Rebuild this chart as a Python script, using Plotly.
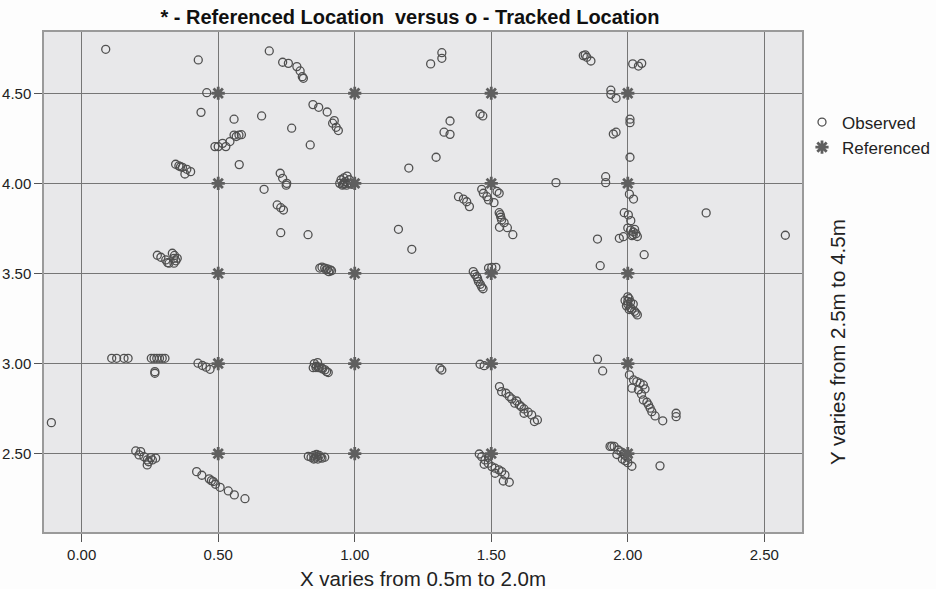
import plotly.graph_objects as go

# Observed (tracked) locations
obs_x = [
    0.088, 0.427, 0.458, 0.437, 0.558, 0.488, 0.500, 0.516, 0.528, 0.543, 0.558, 0.566, 0.576, 0.585, 0.577,
    0.344, 0.356, 0.369, 0.385, 0.399, 0.378, 0.362,
    0.277, 0.290, 0.308, 0.315, 0.332, 0.338, 0.350, 0.338, 0.320, 0.340, 0.345,
    0.687, 0.736, 0.757, 0.788, 0.800, 0.808, 0.812, 0.847, 0.868, 0.899, 0.925, 0.919, 0.932, 0.940,
    0.659, 0.769, 0.837, 0.727, 0.736, 0.751, 0.749, 0.668, 0.716, 0.729, 0.739, 0.729, 0.829,
    0.945, 0.950, 0.955, 0.960, 0.962, 0.965, 0.970, 0.972, 0.975, 0.980, 0.958, 0.985, 0.990,
    1.198, 1.160, 1.209,
    0.872, 0.880, 0.890, 0.895, 0.900, 0.905, 0.910, 0.915,
    1.319, 1.319, 1.278, 1.837, 1.850, 1.865, 1.844,
    1.938, 1.938, 1.957,
    1.459, 1.469, 1.349, 1.327, 1.349, 1.298,
    1.947, 1.957, 2.018, 2.039, 2.051, 2.008, 2.008, 2.008,
    1.737, 1.919, 1.919,
    1.380, 1.398, 1.410, 1.420,
    1.465, 1.471, 1.484, 1.490, 1.510, 1.529, 1.521,
    1.529, 1.535, 1.538, 1.547, 1.530, 1.559, 1.579, 1.533,
    2.006, 2.021, 1.987, 2.002, 2.011,
    2.000, 2.010, 2.020, 2.030, 2.015, 2.035, 2.025, 2.020,
    1.969, 1.984, 1.889, 2.060, 1.899, 2.287, 2.577,
    1.502, 1.517, 1.490,
    1.434, 1.447, 1.453, 1.440, 1.460, 1.465, 1.470, 1.450,
    -0.111, 0.110, 0.128, 0.155, 0.170,
    0.255, 0.265, 0.275, 0.285, 0.295, 0.305, 0.268, 0.268,
    0.426, 0.442, 0.456, 0.470,
    0.198, 0.216, 0.210, 0.228, 0.240, 0.253, 0.271, 0.240, 0.259, 0.245,
    0.421, 0.440, 0.467, 0.482, 0.490, 0.507, 0.537, 0.559, 0.598, 0.475,
    0.848, 0.852, 0.864, 0.867, 0.870, 0.858, 0.879, 0.882, 0.891, 0.897, 0.903, 0.860,
    0.830, 0.840, 0.850, 0.855, 0.860, 0.865, 0.870, 0.875, 0.880, 0.890, 0.860, 0.850,
    1.312, 1.319, 1.459, 1.474, 1.889, 1.908,
    1.530, 1.538, 1.554, 1.566, 1.575, 1.586, 1.593, 1.603, 1.610, 1.620, 1.620, 1.635, 1.648, 1.658, 1.669,
    1.456, 1.465, 1.477, 1.474, 1.489, 1.490, 1.502, 1.514, 1.514, 1.538, 1.550, 1.544, 1.566, 1.528,
    2.000, 2.005, 1.990, 2.010, 2.000, 1.995, 2.020, 2.010, 2.015, 2.025, 2.030, 2.035, 2.005, 2.000,
    2.006, 2.021, 2.033, 2.045, 2.057, 2.015, 2.039, 2.063, 2.050, 2.057, 2.070, 2.076, 2.082, 2.088,
    2.100, 2.128, 2.177, 2.177,
    1.935, 1.950, 1.965, 1.975, 1.985, 1.990, 2.000, 1.980, 1.990, 2.000, 2.015, 1.941, 1.960,
    2.118,
]
obs_y = [
    4.744, 4.685, 4.503, 4.394, 4.356, 4.204, 4.204, 4.222, 4.204, 4.232, 4.268, 4.260, 4.268, 4.270, 4.104,
    4.106, 4.097, 4.089, 4.078, 4.065, 4.052, 4.092,
    3.601, 3.590, 3.575, 3.560, 3.612, 3.584, 3.584, 3.557, 3.557, 3.600, 3.570,
    4.735, 4.672, 4.666, 4.648, 4.624, 4.592, 4.583, 4.437, 4.422, 4.396, 4.348, 4.334, 4.311, 4.293,
    4.374, 4.306, 4.213, 4.056, 4.028, 4.000, 3.990, 3.967, 3.880, 3.865, 3.852, 3.726, 3.715,
    4.000, 4.020, 3.990, 4.030, 4.000, 4.010, 3.990, 4.040, 4.000, 4.020, 3.995, 4.000, 3.995,
    4.085, 3.745, 3.634,
    3.530, 3.535, 3.530, 3.520, 3.525, 3.510, 3.520, 3.515,
    4.725, 4.694, 4.663, 4.709, 4.700, 4.679, 4.713,
    4.517, 4.494, 4.472,
    4.385, 4.374, 4.346, 4.284, 4.272, 4.145,
    4.274, 4.284, 4.663, 4.651, 4.666, 4.356, 4.337, 4.145,
    4.004, 4.037, 4.004,
    3.926, 3.913, 3.898, 3.871,
    3.967, 3.945, 3.926, 3.908, 3.893, 3.945, 3.955,
    3.837, 3.812, 3.797, 3.782, 3.756, 3.754, 3.715, 3.826,
    3.940, 3.913, 3.837, 3.825, 3.793,
    3.752, 3.740, 3.730, 3.720, 3.710, 3.705, 3.745, 3.715,
    3.695, 3.704, 3.691, 3.604, 3.543, 3.836, 3.712,
    3.534, 3.534, 3.530,
    3.510, 3.482, 3.455, 3.495, 3.440, 3.425, 3.415, 3.470,
    2.672, 3.029, 3.029, 3.029, 3.029,
    3.029, 3.029, 3.029, 3.029, 3.029, 3.029, 2.946, 2.955,
    3.002, 2.989, 2.980, 2.968,
    2.515, 2.511, 2.493, 2.483, 2.465, 2.478, 2.475, 2.437, 2.465, 2.455,
    2.400, 2.380, 2.360, 2.345, 2.330, 2.313, 2.293, 2.271, 2.250, 2.350,
    2.977, 3.000, 3.005, 2.977, 2.980, 2.978, 2.975, 2.970, 2.965, 2.955, 2.950, 2.985,
    2.485, 2.480, 2.490, 2.475, 2.485, 2.470, 2.490, 2.480, 2.475, 2.480, 2.495, 2.470,
    2.974, 2.964, 2.996, 2.988, 3.024, 2.959,
    2.872, 2.844, 2.835, 2.817, 2.804, 2.780, 2.792, 2.770, 2.760, 2.748, 2.724, 2.730, 2.715, 2.678, 2.687,
    2.498, 2.483, 2.465, 2.441, 2.447, 2.480, 2.428, 2.419, 2.391, 2.400, 2.382, 2.348, 2.341, 2.410,
    3.370, 3.360, 3.350, 3.340, 3.330, 3.320, 3.330, 3.310, 3.300, 3.290, 3.280, 3.270, 3.300, 3.345,
    2.937, 2.909, 2.900, 2.891, 2.881, 2.863, 2.854, 2.859, 2.830, 2.798, 2.785, 2.770, 2.752, 2.733,
    2.709, 2.682, 2.724, 2.705,
    2.540, 2.540, 2.520, 2.510, 2.500, 2.490, 2.480, 2.470, 2.460, 2.450, 2.430, 2.541, 2.495,
    2.432,
]

# Referenced grid locations
ref_x_levels = [0.5, 1.0, 1.5, 2.0]
ref_y_levels = [2.5, 3.0, 3.5, 4.0, 4.5]
ref_x = [x for x in ref_x_levels for _ in ref_y_levels]
ref_y = [y for _ in ref_x_levels for y in ref_y_levels]

x_ticks = [0.0, 0.5, 1.0, 1.5, 2.0, 2.5]
y_ticks = [2.5, 3.0, 3.5, 4.0, 4.5]

FONT = "Liberation Sans, Arial, sans-serif"

fig = go.Figure()
fig.add_trace(go.Scatter(
    x=obs_x, y=obs_y, mode="markers", name="Observed",
    marker=dict(symbol="circle-open", size=8, color="#505050", line=dict(width=1.3, color="#505050")),
))
fig.add_trace(go.Scatter(
    x=ref_x, y=ref_y, mode="markers", name="Referenced",
    marker=dict(symbol="asterisk", size=11, color="#5f5f5f", line=dict(width=2.8, color="#5f5f5f")),
))

W, H = 936, 589
L, R, T, B = 44, 134, 32, 57

fig.update_layout(
    width=W, height=H,
    margin=dict(l=L, r=R, t=T, b=B, pad=0, autoexpand=False),
    paper_bgcolor="#fdfdfd",
    plot_bgcolor="#e8e8ea",
    font=dict(family=FONT, color="#222222", size=15),
    title=dict(
        text="<b>* - Referenced Location  versus o - Tracked Location</b>",
        x=410 / W, xref="container", xanchor="center",
        y=1 - 17 / H, yref="container", yanchor="middle",
        font=dict(family=FONT, size=20, color="#111111"),
    ),
    showlegend=True,
    legend=dict(
        x=1.0, xanchor="left", y=0.855, yanchor="top",
        bgcolor="rgba(0,0,0,0)", font=dict(family=FONT, size=17, color="#222222"),
        itemsizing="trace", tracegroupgap=0,
    ),
    xaxis=dict(
        range=[-0.138, 2.638], tickvals=x_ticks, tickformat=".2f", automargin=False,
        showgrid=True, gridcolor="#767676", gridwidth=1.3, zeroline=False,
        showline=True, linecolor="#9a9a9a", linewidth=1.5, mirror=True,
        ticks="outside", ticklen=8, tickcolor="#555555",
        tickfont=dict(size=15, color="#222222"),
    ),
    yaxis=dict(
        range=[2.065, 4.84], tickvals=y_ticks, tickformat=".2f", automargin=False,
        showgrid=True, gridcolor="#767676", gridwidth=1.3, zeroline=False,
        showline=True, linecolor="#9a9a9a", linewidth=1.5, mirror=True,
        ticks="outside", ticklen=8, tickcolor="#555555",
        tickfont=dict(size=15, color="#222222"),
    ),
    annotations=[
        dict(text="X varies from 0.5m to 2.0m", xref="paper", yref="paper",
             x=0.5, y=0, yanchor="middle", xanchor="center", yshift=-46,
             showarrow=False, font=dict(family=FONT, size=20.5, color="#222222")),
        dict(text="Y varies from 2.5m to 4.5m", xref="paper", yref="paper",
             x=1, y=(532 - 342) / 500, xanchor="center", yanchor="middle", xshift=35,
             textangle=-90, showarrow=False, font=dict(family=FONT, size=20.5, color="#222222")),
    ],
)

fig.write_html("out.html", config={"displayModeBar": False},
               post_script="document.body.style.margin='0px';")
